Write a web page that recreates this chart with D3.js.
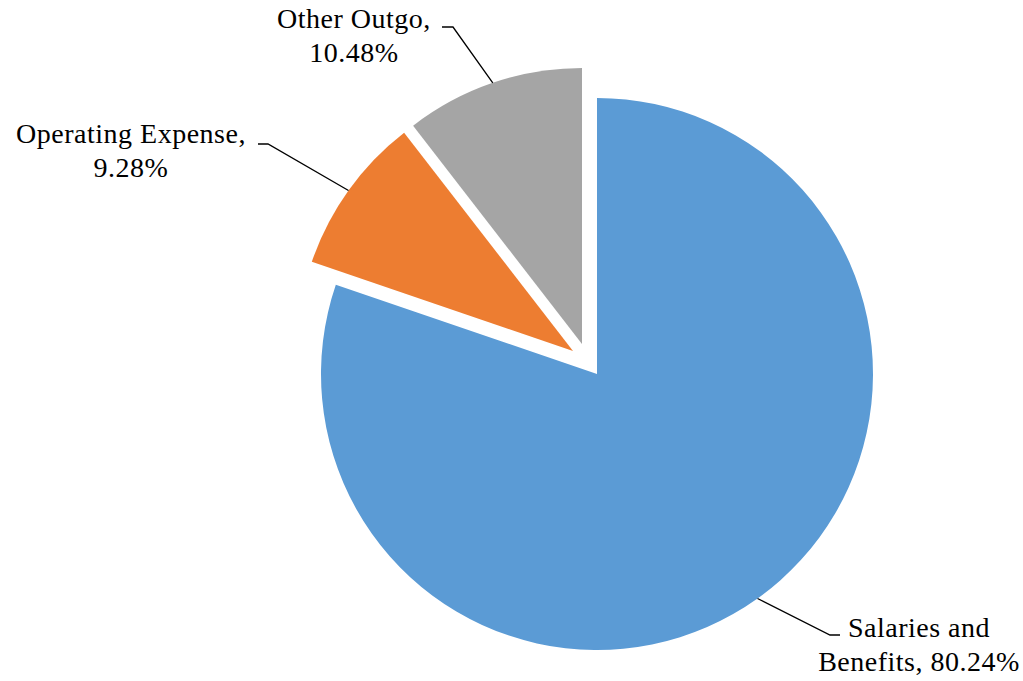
<!DOCTYPE html>
<html>
<head>
<meta charset="utf-8">
<script src="https://cdn.jsdelivr.net/npm/d3@7"></script>
<style>
  body { margin: 0; background: #fff; }
  text { font-family: "Palatino Linotype", "Book Antiqua", Palatino, "Liberation Serif", serif; fill: #000; }
</style>
</head>
<body>
<div id="chart-area"></div>
<script>
// data
var categories = ["Salaries and Benefits", "Operating Expense", "Other Outgo"];
var shares = [80.24, 9.28, 10.48];
var colors = ["#5B9BD5", "#ED7D31", "#A5A5A5"];

var width = 1023, height = 681;
var cx = 597, cy = 374, radius = 276;

// exploded offsets per slice (pixels)
var explode = [[0, 0], [-24, -23], [-15, -30]];

// label layout: lines, anchor x, first baseline, elbow point
var labelLayout = [
    {lines: ["Salaries and", "Benefits, 80.24%"], x: 919, y: 637, elbow: [[830, 635], [840, 635]]},
    {lines: ["Operating Expense,", "9.28%"], x: 131, y: 143, elbow: [[268, 144], [258, 144]]},
    {lines: ["Other Outgo,", "10.48%"], x: 354, y: 28, elbow: [[453, 27], [442, 27]]}
];

var svg = d3.select("#chart-area").append("svg")
    .attr("width", width)
    .attr("height", height);

var pie = d3.pie().sort(null).value((d) => { return d; });
var arcs = pie(shares);

var arc = d3.arc().innerRadius(0).outerRadius(radius);

var slices = svg.selectAll("g.slice")
    .data(arcs)
    .enter().append("g")
    .attr("class", "slice")
    .attr("transform", (d, i) => { return "translate(" + (cx + explode[i][0]) + "," + (cy + explode[i][1]) + ")"; });

slices.append("path")
    .attr("d", arc)
    .attr("fill", (d, i) => { return colors[i]; });

// leader lines: from outer arc at mid-angle to label elbow
arcs.forEach((d, i) => {
    var mid = (d.startAngle + d.endAngle) / 2;
    var px = cx + explode[i][0] + radius * Math.sin(mid);
    var py = cy + explode[i][1] - radius * Math.cos(mid);
    var pts = [[px, py]].concat(labelLayout[i].elbow);
    svg.append("path")
        .attr("d", d3.line()(pts))
        .attr("fill", "none")
        .attr("stroke", "#000")
        .attr("stroke-width", 1.3);

    var t = svg.append("text")
        .attr("text-anchor", "middle")
        .attr("font-size", "28px")
        .attr("letter-spacing", "0.5px");
    labelLayout[i].lines.forEach((line, j) => {
        t.append("tspan")
            .attr("x", labelLayout[i].x)
            .attr("y", labelLayout[i].y + j * 34)
            .text(line);
    });
});
</script>
</body>
</html>
